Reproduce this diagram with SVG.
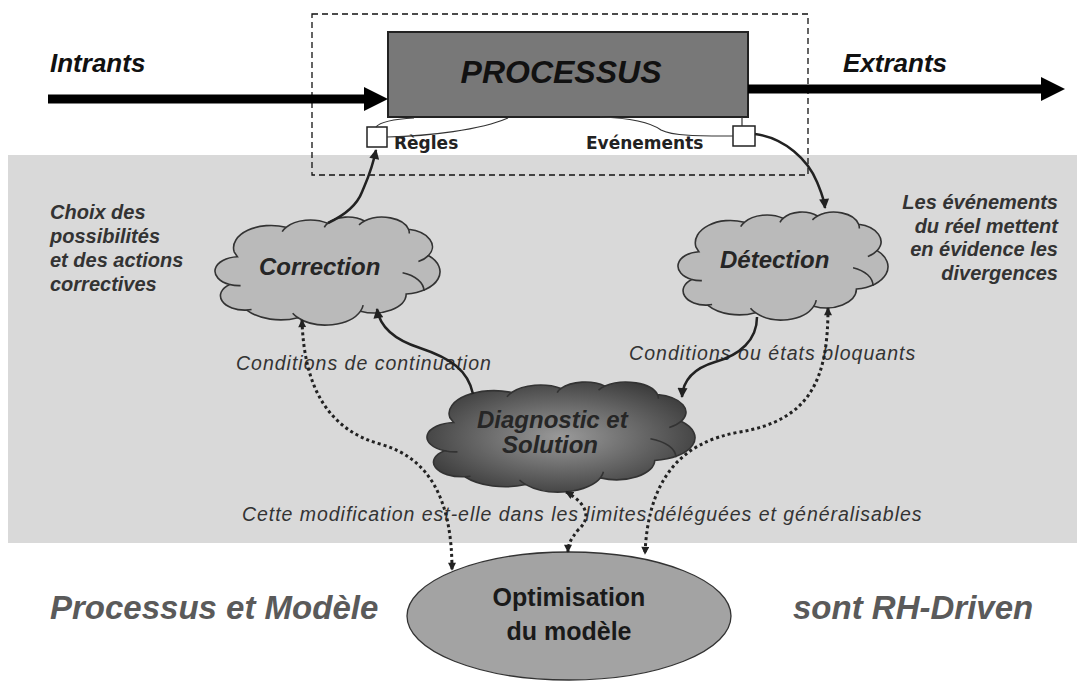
<svg xmlns="http://www.w3.org/2000/svg" width="1077" height="682" viewBox="0 0 1077 682">
<style>
text { font-family: "Liberation Sans", Arial, sans-serif; }
.bi { font-weight: bold; font-style: italic; }
.it { font-style: italic; fill: #333; font-size: 19.5px; }
.side { font-weight: bold; font-style: italic; font-size: 20px; fill: #333; }
.io { font-size: 26px; fill: #111; }
.tag { font-family: "DejaVu Sans", sans-serif; font-weight: bold; font-size: 17px; fill: #222; }
.cloud-t { font-size: 24px; fill: #262626; }
.slogan { font-size: 33px; fill: #5a5a5a; }
.solid { fill: none; stroke: #222; stroke-width: 2.5; }
.dot { fill: none; stroke: #222; stroke-width: 3; stroke-dasharray: 3 3; }
.thin { fill: none; stroke: #333; stroke-width: 1.2; }
.big { fill: none; stroke: #000; stroke-width: 9; }
</style>
<defs>
  <marker id="ah" viewBox="0 0 10 10" refX="9" refY="5" markerWidth="11" markerHeight="10" markerUnits="userSpaceOnUse" orient="auto-start-reverse">
    <path d="M0,0 L10,5 L0,10 z" fill="#222"/>
  </marker>
  <marker id="ahd" viewBox="0 0 10 10" refX="9" refY="5" markerWidth="9" markerHeight="8" markerUnits="userSpaceOnUse" orient="auto-start-reverse">
    <path d="M0,0 L10,5 L0,10 z" fill="#222"/>
  </marker>
  <marker id="bigah" viewBox="0 0 24 24" refX="0" refY="12" markerWidth="24" markerHeight="24" markerUnits="userSpaceOnUse" orient="auto">
    <path d="M0,0 L24,12 L0,24 z" fill="#000"/>
  </marker>
  <radialGradient id="diagFill" cx="0.5" cy="0.5" r="0.55">
    <stop offset="0" stop-color="#9a9a9a"/>
    <stop offset="1" stop-color="#3e3e3e"/>
  </radialGradient>
  <g id="cloud">
    <path vector-effect="non-scaling-stroke" stroke="#333" stroke-width="1.6" d="M39,143.7 A67.5,91.9 0 0 1 132.1,42.6 A53.3,72.7 0 0 1 206.6,26.3 A43.7,59.5 0 0 1 272.9,16.8 A48.6,66 0 0 1 352,50.9 A53.3,72.7 0 0 1 387.6,159 A67.8,92.2 0 0 1 347.8,317.3 A57.9,78.7 0 0 1 265.8,387.9 A67.5,92.2 0 0 1 153.5,414.9 A77.2,105.4 0 0 1 61.6,383.3 A43.6,59.2 0 0 1 30.9,277.9 A43.5,59.5 0 0 1 44.8,163.9 Z"/>
    <path vector-effect="non-scaling-stroke" fill="none" stroke="#333" stroke-width="1.6" d="M341.3,229.5 A57.9,78.7 0 0 1 379.6,304.5 M387.6,159 A53.3,72.7 0 0 1 369.7,183.9 M50.5,282.6 A43.45,59.45 0 0 1 30.9,277.9 M70.2,381.2 A43.6,59.2 0 0 1 61.6,383.3 M153.5,414.9 A67.5,92.2 0 0 1 144,396.4 M270.5,363.1 A67.5,92.2 0 0 1 265.8,387.9 M263.1,32.8 A48.6,66 0 0 1 272.9,16.8 M200.8,42.8 A43.7,59.5 0 0 1 206.6,26.3 M352,50.9 A48.6,66 0 0 1 353.4,67.9 M125.2,60.3 A53.3,72.7 0 0 1 132.1,42.6"/>
  </g>
</defs>

<rect id="band" x="8" y="155" width="1069" height="388" fill="#d9d9d9"/>
<rect id="frame" x="312" y="14" width="496" height="161" fill="none" stroke="#111" stroke-width="1.3" stroke-dasharray="6 4"/>

<g id="labels-io">
  <text class="bi io" x="50" y="72">Intrants</text>
  <text class="bi io" x="843" y="72">Extrants</text>
</g>

<g id="processus">
  <rect x="388" y="32" width="360" height="85" fill="#787878" stroke="#222" stroke-width="2"/>
  <text class="bi" x="561" y="83" text-anchor="middle" font-size="32" fill="#111">PROCESSUS</text>
</g>

<g id="regles">
  <rect x="367" y="127" width="20" height="20" fill="#fff" stroke="#222" stroke-width="1.5"/>
  <text class="tag" x="394" y="149">Règles</text>
</g>
<g id="evenements">
  <rect x="733" y="126" width="22" height="20" fill="#fff" stroke="#222" stroke-width="1.5"/>
  <text class="tag" x="586" y="149">Evénements</text>
</g>

<g id="side-texts">
  <text class="side" x="50" y="219">Choix des</text>
  <text class="side" x="50" y="243">possibilités</text>
  <text class="side" x="50" y="267">et des actions</text>
  <text class="side" x="50" y="291">correctives</text>
  <text class="side" x="1058" y="209" text-anchor="end">Les événements</text>
  <text class="side" x="1058" y="233" text-anchor="end">du réel mettent</text>
  <text class="side" x="1058" y="256" text-anchor="end">en évidence les</text>
  <text class="side" x="1058" y="280" text-anchor="end">divergences</text>
</g>

<g id="correction">
  <use href="#cloud" fill="#bababa" transform="translate(212.44,216.95) scale(0.5571,0.24286)"/>
  <text class="bi cloud-t" x="259" y="275">Correction</text>
</g>
<g id="detection">
  <use href="#cloud" fill="#bababa" transform="translate(675.61,211.95) scale(0.51993,0.24286)"/>
  <text class="bi cloud-t" x="720" y="268">Détection</text>
</g>
<g id="diagnostic">
  <use href="#cloud" fill="url(#diagFill)" transform="translate(423.95,381.95) scale(0.66353,0.24736)"/>
  <text class="bi cloud-t" x="477" y="428">Diagnostic et</text>
  <text class="bi cloud-t" x="502" y="453">Solution</text>
</g>

<g id="optimisation">
  <ellipse cx="569" cy="616" rx="162" ry="64" fill="#a3a3a3" stroke="#333" stroke-width="1.3"/>
  <text x="569" y="606" text-anchor="middle" font-size="25" font-weight="bold" fill="#1a1a1a">Optimisation</text>
  <text x="569" y="640" text-anchor="middle" font-size="25" font-weight="bold" fill="#1a1a1a">du modèle</text>
</g>

<g id="slogans">
  <text class="bi slogan" x="50" y="619">Processus et Modèle</text>
  <text class="bi slogan" x="793" y="619">sont RH-Driven</text>
</g>

<g id="connector-labels">
  <text class="it" x="236" y="370" letter-spacing="1">Conditions de continuation</text>
  <text class="it" x="629" y="360" letter-spacing="1.05">Conditions ou états bloquants</text>
  <text class="it" x="242" y="521" letter-spacing="0.96">Cette modification est-elle dans les limites déléguées et généralisables</text>
</g>

<g id="connectors">
  <path class="big" d="M48,99 L364,99" marker-end="url(#bigah)"/>
  <path class="big" d="M748,89 L1041,89" marker-end="url(#bigah)"/>
  <path class="thin" d="M376,127 C381,121 395,119 414,118"/>
  <path class="thin" d="M387,137 C430,136 480,130 508,118"/>
  <path class="thin" d="M742,117 L742,126"/>
  <path class="thin" d="M733,136 C700,136 672,136 661,130 C650,122 630,118 600,117"/>
  <path class="solid" d="M328,223 C345,215 357,205 362,192 C367,180 372,170 376,150" marker-end="url(#ah)"/>
  <path class="solid" d="M755,134 C785,138 808,160 817,182 C821,192 824,198 825,208" marker-end="url(#ah)"/>
  <path class="solid" d="M473,394 C468,370 450,358 420,348 C395,340 380,328 377,309" marker-end="url(#ah)"/>
  <path class="solid" d="M757,317 C757,340 740,355 715,362 C695,368 683,380 682,397" marker-end="url(#ah)"/>
  <path class="dot" d="M302,320 C304,390 330,430 380,444 C430,458 452,500 452,570" marker-start="url(#ahd)" marker-end="url(#ahd)"/>
  <path class="dot" d="M566,492 C590,505 590,520 578,530 C570,540 568,545 568,552" marker-start="url(#ahd)" marker-end="url(#ahd)"/>
  <path class="dot" d="M828,308 C828,380 810,420 740,432 C680,442 648,480 645,554" marker-start="url(#ahd)" marker-end="url(#ahd)"/>
</g>
</svg>
